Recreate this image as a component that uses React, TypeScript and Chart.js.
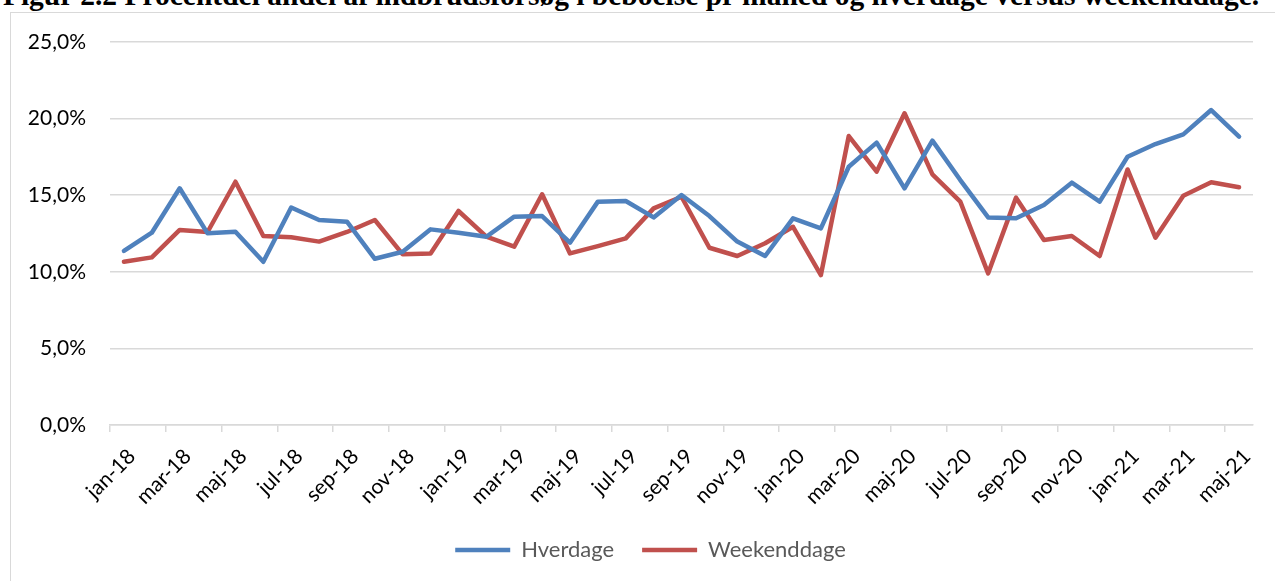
import React, { useEffect, useRef } from 'react';
import { Chart, registerables } from 'chart.js';

Chart.register(...registerables);

const titleText =
  'Figur 2.2 Procentdel andel af indbrudsforsøg i beboelse pr måned og hverdage versus weekenddage.';

const months = [
  'jan-18', 'feb-18', 'mar-18', 'apr-18', 'maj-18', 'jun-18', 'jul-18', 'aug-18', 'sep-18', 'okt-18', 'nov-18', 'dec-18',
  'jan-19', 'feb-19', 'mar-19', 'apr-19', 'maj-19', 'jun-19', 'jul-19', 'aug-19', 'sep-19', 'okt-19', 'nov-19', 'dec-19',
  'jan-20', 'feb-20', 'mar-20', 'apr-20', 'maj-20', 'jun-20', 'jul-20', 'aug-20', 'sep-20', 'okt-20', 'nov-20', 'dec-20',
  'jan-21', 'feb-21', 'mar-21', 'apr-21', 'maj-21',
];

const hverdage = [
  11.36, 12.55, 15.45, 12.51, 12.62, 10.65, 14.2, 13.38, 13.27, 10.85, 11.31, 12.77,
  12.55, 12.29, 13.6, 13.64, 11.9, 14.58, 14.62, 13.55, 15.01, 13.64, 11.97, 11.03,
  13.49, 12.83, 16.86, 18.43, 15.45, 18.56, 15.99, 13.55, 13.49, 14.36, 15.82, 14.58,
  17.51, 18.34, 18.97, 20.56, 18.82,
];

const weekenddage = [
  10.66, 10.94, 12.73, 12.6, 15.88, 12.34, 12.25, 11.97, 12.6, 13.38, 11.14, 11.2,
  13.97, 12.29, 11.64, 15.06, 11.2, 11.68, 12.18, 14.14, 14.9, 11.57, 11.03, 11.86,
  12.94, 9.79, 18.86, 16.54, 20.35, 16.36, 14.58, 9.9, 14.84, 12.08, 12.34, 11.03,
  16.68, 12.23, 14.97, 15.84, 15.52,
];

const yMin = 0;
const yMax = 25;
const yStep = 5;

const BLUE = '#4f81bd';
const RED = '#c0504d';
const GRID = '#d9d9d9';
const FONT = 'Lato, "Open Sans", sans-serif';

const legendShift = {
  id: 'legendShift',
  afterLayout(chart: any) {
    const lg = chart.legend;
    if (lg) {
      lg.left += 15;
      lg.right += 15;
    }
  },
};

export default function App() {
  const ref = useRef<HTMLCanvasElement | null>(null);

  useEffect(() => {
    if (!ref.current) return;
    const chart = new Chart(ref.current, {
      type: 'line',
      data: {
        labels: months,
        datasets: [
          {
            label: 'Hverdage',
            data: hverdage,
            borderColor: BLUE,
            backgroundColor: BLUE,
            borderWidth: 4.5,
            pointRadius: 0,
            tension: 0,
            borderCapStyle: 'round',
            borderJoinStyle: 'round',
          },
          {
            label: 'Weekenddage',
            data: weekenddage,
            borderColor: RED,
            backgroundColor: RED,
            borderWidth: 4.5,
            pointRadius: 0,
            tension: 0,
            borderCapStyle: 'round',
            borderJoinStyle: 'round',
          },
        ],
      },
      plugins: [legendShift],
      options: {
        animation: false,
        responsive: false,
        layout: { padding: { left: 18, top: 42, right: 22, bottom: 10 } },
        plugins: {
          tooltip: { enabled: false },
          legend: {
            position: 'bottom',
            labels: {
              usePointStyle: true,
              pointStyle: 'line',
              pointStyleWidth: 55,
              padding: 28,
              color: '#595959',
              font: { family: FONT, size: 22 },
            },
          },
        },
        scales: {
          x: {
            offset: true,
            grid: {
              display: true,
              offset: true,
              drawOnChartArea: false,
              drawTicks: true,
              tickLength: 7,
              lineWidth: 1.5,
              color: GRID,
              tickColor: (ctx: any) =>
                ctx.index !== undefined && ctx.index % 2 === 0 ? GRID : 'rgba(0,0,0,0)',
            },
            border: { display: true, color: GRID, width: 1.5 },
            ticks: {
              autoSkip: false,
              maxRotation: 45,
              minRotation: 45,
              padding: 12,
              labelOffset: 8,
              color: '#000',
              font: { family: FONT, size: 21 },
              callback: (_v: any, i: number) => (i % 2 === 0 ? months[i] : ''),
            },
            afterFit: (s: any) => {
              s.height = 86;
            },
          },
          y: {
            min: yMin,
            max: yMax,
            grid: { color: GRID, lineWidth: 1.5, drawTicks: false },
            border: { display: false },
            ticks: {
              stepSize: yStep,
              padding: 24,
              color: '#000',
              font: { family: FONT, size: 21 },
              callback: (v: any) => Number(v).toFixed(1).replace('.', ',') + '%',
            },
            afterFit: (s: any) => {
              s.width = 92;
            },
          },
        },
      },
    });
    return () => chart.destroy();
  }, []);

  return (
    <div
      style={{
        position: 'absolute',
        left: 0,
        top: 0,
        width: 1275,
        height: 581,
        overflow: 'hidden',
        background: '#fff',
      }}
    >
      <div
        style={{
          position: 'absolute',
          left: 0,
          top: -20,
          width: 1262,
          textAlign: 'center',
          whiteSpace: 'nowrap',
          fontFamily: '"Liberation Serif", "Times New Roman", serif',
          fontWeight: 'bold',
          fontSize: 29.5,
          lineHeight: '30px',
          color: '#000',
        }}
      >
        {titleText}
      </div>
      <div
        style={{
          position: 'absolute',
          left: 10,
          top: 12,
          width: 1300,
          height: 600,
          border: `1.5px solid ${GRID}`,
          boxSizing: 'border-box',
        }}
      />
      <canvas
        ref={ref}
        width={1275}
        height={581}
        style={{ position: 'absolute', left: 0, top: 0, width: 1275, height: 581 }}
      />
    </div>
  );
}
